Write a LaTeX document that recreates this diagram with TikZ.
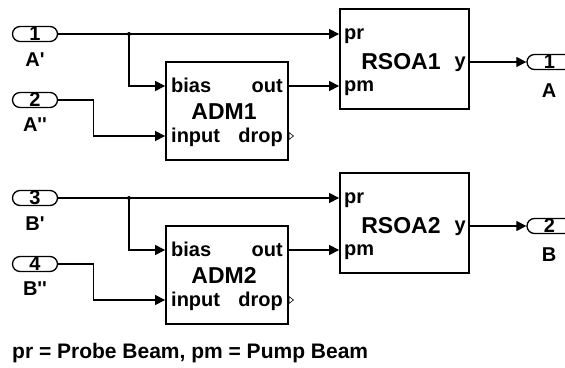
\documentclass[tikz,border=0pt]{standalone}
\usepackage{fontspec}
\setmainfont{Liberation Sans}
\usetikzlibrary{arrows.meta}

\begin{document}
\begin{tikzpicture}[x=1pt,y=-1pt,
    blk/.style={draw,line width=1.8pt,inner sep=0pt},
    pill/.style={draw,line width=1.3pt,rounded corners=7.5pt,minimum width=45pt,
      minimum height=15pt,inner sep=0pt,font=\fontsize{20}{20}\selectfont\bfseries},
    wire/.style={line width=1.2pt,-{Triangle[length=10pt,width=10pt]}},
    lbl/.style={inner sep=0pt,font=\fontsize{20}{20}\selectfont\bfseries},
    big/.style={inner sep=0pt,font=\fontsize{23}{23}\selectfont\bfseries}]
    \useasboundingbox (0,0) rectangle (565,367);

    % upper chain
    \node[pill] (in1) at (35,34) {1};
    \node[pill] (in2) at (35,100) {2};
    \node[lbl,anchor=base] (labA1) at (35,66) {A\textquotesingle};
    \node[lbl,anchor=base] (labA2) at (35,131) {A\textquotesingle\textquotesingle};
    \node[blk,minimum width=122pt,minimum height=98pt] (adm1) at (227,111) {};
    \node[lbl,anchor=base west] (adm1bias) at (171,92) {bias};
    \node[lbl,anchor=base east] (adm1out) at (283,92) {out};
    \node[big,anchor=base] (adm1name) at (224,119) {ADM1};
    \node[lbl,anchor=base west] (adm1in) at (171,142) {input};
    \node[lbl,anchor=base east] (adm1drop) at (283,142) {drop};
    \node[blk,minimum width=129pt,minimum height=100pt] (rsoa1) at (404.5,59) {};
    \node[lbl,anchor=base west] (rsoa1pr) at (344,39) {pr};
    \node[lbl,anchor=base west] (rsoa1pm) at (344,91) {pm};
    \node[big,anchor=base] (rsoa1name) at (401,69) {RSOA1};
    \node[lbl,anchor=base east] (rsoa1y) at (466,67) {y};
    \node[pill] (out1) at (549.5,62) {1};
    \node[lbl,anchor=base] (labA) at (549,97) {A};
    \coordinate (j1) at (129,34);

    \draw[wire] (in1.east) -- (j1) -- (rsoa1.west |- j1);
    \fill (j1) circle (2pt);
    \draw[wire] (j1) |- (adm1.west |- 0,86);
    \draw[wire] (in2.east) -- ++(35,0) |- (adm1.west |- 0,136);
    \draw[wire] (adm1.east |- 0,86) -- (rsoa1.west |- 0,86);
    \draw[wire] (rsoa1.east |- out1) -- (out1.west);
    \draw[line width=0.6pt] (289,132.5) -- (293.5,136) -- (289,139.5) -- cycle;

    % lower chain
    \node[pill] (in3) at (35,198) {3};
    \node[pill] (in4) at (35,264) {4};
    \node[lbl,anchor=base] (labB1) at (35,230) {B\textquotesingle};
    \node[lbl,anchor=base] (labB2) at (35,295) {B\textquotesingle\textquotesingle};
    \node[blk,minimum width=122pt,minimum height=98pt] (adm2) at (227,275) {};
    \node[lbl,anchor=base west] (adm2bias) at (171,256) {bias};
    \node[lbl,anchor=base east] (adm2out) at (283,256) {out};
    \node[big,anchor=base] (adm2name) at (224,283) {ADM2};
    \node[lbl,anchor=base west] (adm2in) at (171,306) {input};
    \node[lbl,anchor=base east] (adm2drop) at (283,306) {drop};
    \node[blk,minimum width=129pt,minimum height=100pt] (rsoa2) at (404.5,223) {};
    \node[lbl,anchor=base west] (rsoa2pr) at (344,203) {pr};
    \node[lbl,anchor=base west] (rsoa2pm) at (344,255) {pm};
    \node[big,anchor=base] (rsoa2name) at (401,233) {RSOA2};
    \node[lbl,anchor=base east] (rsoa2y) at (466,231) {y};
    \node[pill] (out2) at (549.5,226) {2};
    \node[lbl,anchor=base] (labB) at (549,261) {B};
    \coordinate (j2) at (129,198);

    \draw[wire] (in3.east) -- (j2) -- (rsoa2.west |- j2);
    \fill (j2) circle (2pt);
    \draw[wire] (j2) |- (adm2.west |- 0,250);
    \draw[wire] (in4.east) -- ++(35,0) |- (adm2.west |- 0,300);
    \draw[wire] (adm2.east |- 0,250) -- (rsoa2.west |- 0,250);
    \draw[wire] (rsoa2.east |- out2) -- (out2.west);
    \draw[line width=0.6pt] (289,296.5) -- (293.5,300) -- (289,303.5) -- cycle;

    \node[anchor=base west,inner sep=0pt,font=\fontsize{21}{21}\selectfont\bfseries] (note) at (12,358)
      {pr = Probe Beam, pm = Pump Beam};
\end{tikzpicture}
\end{document}
